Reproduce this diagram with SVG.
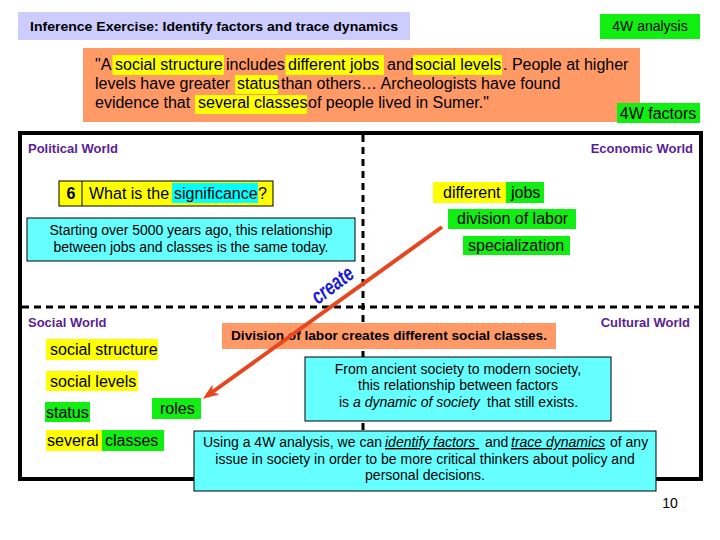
<svg xmlns="http://www.w3.org/2000/svg" width="720" height="540" viewBox="0 0 720 540">
<defs>
<style>
text{font-family:"Liberation Sans",Arial,sans-serif;fill:#000}
.t16{font-size:16px}
.t14{font-size:14px}
.world{font-size:13px;font-weight:bold;fill:#5A1E96}
.yel{fill:#FFFF00}
.grn{fill:#11EE11}
.cyan{fill:#66FFFF;stroke:#000;stroke-width:1}
.org{fill:#FF9966}
.it{font-style:italic}
.ul{text-decoration:underline}
.dash{stroke:#000;stroke-width:3;stroke-dasharray:7 5;fill:none}
</style>
<marker id="ah" viewBox="0 -6 16 12" refX="6" refY="0" markerWidth="16" markerHeight="12" markerUnits="userSpaceOnUse" orient="auto">
<path d="M0,-6 L16,0 L0,6 L4,0 z" fill="#E8461E"/>
</marker>
</defs>
<rect width="720" height="540" fill="#fff"/>

<g id="title">
<rect x="18" y="12" width="392" height="28" fill="#CCCCFF"/>
<text x="30" y="31" font-size="13" font-weight="bold" textLength="368" lengthAdjust="spacingAndGlyphs">Inference Exercise:  Identify factors and trace dynamics</text>
</g>

<g id="analysis">
<rect x="600" y="14" width="100" height="25" class="grn"/>
<text x="650" y="31" class="t14" text-anchor="middle">4W analysis</text>
</g>

<g id="quote">
<rect x="83" y="48" width="557" height="74" class="org"/>
<rect x="112.5" y="55" width="111.5" height="20" class="yel"/>
<rect x="285.5" y="55" width="98.5" height="20" class="yel"/>
<rect x="413" y="55" width="89" height="20" class="yel"/>
<rect x="235" y="75" width="43" height="19" class="yel"/>
<rect x="195" y="95" width="112" height="19" class="yel"/>
<text class="t16" x="95" y="70">"A</text>
<text class="t16" x="115" y="70">social structure</text>
<text class="t16" x="226" y="70">includes</text>
<text class="t16" x="288" y="70">different jobs</text>
<text class="t16" x="387" y="70">and</text>
<text class="t16" x="415" y="70">social levels</text>
<text class="t16" x="503" y="70">. People at higher</text>
<text class="t16" x="95" y="89">levels have greater</text>
<text class="t16" x="237" y="89">status</text>
<text class="t16" x="281" y="89">than others…  Archeologists have found</text>
<text class="t16" x="95" y="108">evidence that</text>
<text class="t16" x="198" y="108">several classes</text>
<text class="t16" x="308" y="108">of people lived in Sumer."</text>
</g>

<g id="factors">
<rect x="617" y="103" width="83" height="20" class="grn"/>
<text x="658" y="119" class="t16" text-anchor="middle">4W factors</text>
</g>

<g id="frame">
<rect x="20" y="133" width="681" height="346" fill="none" stroke="#000" stroke-width="4"/>
<line x1="363" y1="135" x2="363" y2="477" class="dash"/>
<line x1="22" y1="307" x2="699" y2="307" class="dash"/>
</g>

<g id="labels">
<text x="28" y="153" class="world">Political World</text>
<text x="693" y="153" class="world" text-anchor="end">Economic World</text>
<text x="28" y="327" class="world">Social World</text>
<text x="690" y="327" class="world" text-anchor="end">Cultural World</text>
</g>

<g id="question">
<rect x="59" y="181" width="214" height="25" fill="#FFFF00" stroke="#000" stroke-width="1"/>
<line x1="82" y1="181" x2="82" y2="206" stroke="#000" stroke-width="1"/>
<rect x="172" y="183" width="86" height="20" fill="#00FFFF"/>
<text x="71" y="199" font-size="16" font-weight="bold" text-anchor="middle">6</text>
<text class="t16" x="89" y="199">What is the</text>
<text class="t16" x="174" y="199">significance</text>
<text class="t16" x="258" y="199">?</text>
</g>

<g id="starting">
<rect x="27" y="218" width="328" height="43" class="cyan"/>
<text class="t14" x="191" y="235" text-anchor="middle" textLength="283">Starting over 5000 years ago, this relationship</text>
<text class="t14" x="191" y="252" text-anchor="middle" textLength="275">between jobs and classes is the same today.</text>
</g>

<g id="economic">
<rect x="433" y="182" width="73" height="21" class="yel"/>
<rect x="506" y="182" width="38" height="21" class="grn"/>
<text class="t16" x="443" y="198">different</text>
<text class="t16" x="511" y="198">jobs</text>
<rect x="448" y="209" width="128" height="20" class="grn"/>
<text class="t16" x="457" y="224">division of labor</text>
<rect x="463" y="236" width="107" height="19" class="grn"/>
<text class="t16" x="468" y="251">specialization</text>
</g>

<g id="social">
<rect x="46" y="339" width="112" height="21" class="yel"/>
<text class="t16" x="50" y="355">social structure</text>
<rect x="46" y="371" width="92" height="20" class="yel"/>
<text class="t16" x="50" y="387">social levels</text>
<rect x="45" y="402" width="45" height="20" class="grn"/>
<text class="t16" x="46" y="418">status</text>
<rect x="152" y="398" width="49" height="21" class="grn"/>
<text class="t16" x="160" y="414">roles</text>
<rect x="46" y="430" width="56" height="21" class="yel"/>
<rect x="102" y="430" width="62" height="21" class="grn"/>
<text class="t16" x="47" y="446">several</text>
<text class="t16" x="105" y="446">classes</text>
</g>

<g id="division">
<rect x="222" y="323" width="334" height="26" class="org"/>
<text x="231" y="340" font-family="'Open Sans',sans-serif" font-size="12.5" font-weight="bold" textLength="316" lengthAdjust="spacingAndGlyphs">Division of labor creates different social classes.</text>
</g>

<g id="dynamic">
<rect x="305" y="357" width="306" height="64" class="cyan"/>
<text class="t14" x="458" y="374" text-anchor="middle">From ancient society to modern society,</text>
<text class="t14" x="458" y="390" text-anchor="middle">this relationship between factors</text>
<text class="t14" x="339" y="407">is</text>
<text class="t14 it" x="353" y="407">a dynamic of society</text>
<text class="t14" x="487" y="407">that still exists.</text>
</g>

<g id="summary">
<rect x="194" y="431" width="462" height="60" class="cyan"/>
<text class="t14" x="203" y="447">Using a 4W analysis, we can</text>
<text class="t14 it ul" x="385" y="447" xml:space="preserve">identify factors </text>
<text class="t14" x="485" y="447">and</text>
<text class="t14 it ul" x="511" y="447">trace dynamics</text>
<text class="t14" x="610" y="447">of any</text>
<text class="t14" x="425" y="464" text-anchor="middle">issue in society in order to be more critical thinkers about policy and</text>
<text class="t14" x="425" y="480" text-anchor="middle">personal decisions.</text>
</g>

<g id="pagenum">
<text class="t14" x="670" y="508" text-anchor="middle">10</text>
</g>

<g id="connectors">
<line x1="442" y1="227" x2="211" y2="393" stroke="#E8461E" stroke-width="4" marker-end="url(#ah)"/>
<text transform="translate(318,305) rotate(-37)" font-size="22" font-weight="bold" font-style="italic" textLength="47" lengthAdjust="spacingAndGlyphs" style="fill:#1A1AD9">create</text>
</g>
</svg>
